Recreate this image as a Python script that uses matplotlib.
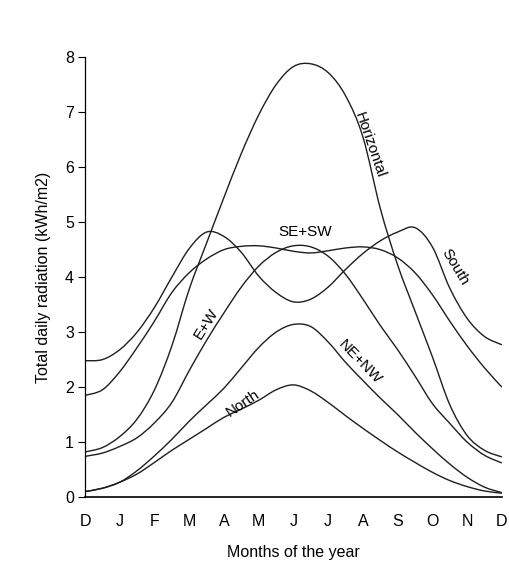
import numpy as np
import matplotlib
matplotlib.use("Agg")
import matplotlib.pyplot as plt
from matplotlib.path import Path
from matplotlib.patches import PathPatch

plt.rcParams['font.family'] = ['Liberation Sans', 'DejaVu Sans']

# months from December (0) to December (12), every half month
months = np.linspace(0, 12, 25)
month_labels = ['D', 'J', 'F', 'M', 'A', 'M', 'J', 'J', 'A', 'S', 'O', 'N', 'D']

horizontal = [0.82, 0.90, 1.10, 1.42, 1.95, 2.75, 3.78, 4.62, 5.45, 6.25, 6.95, 7.50, 7.83,
              7.88, 7.72, 7.30, 6.55, 5.25, 4.22, 3.38, 2.55, 1.68, 1.12, 0.85, 0.73]
south = [2.48, 2.50, 2.68, 3.00, 3.45, 4.00, 4.52, 4.82, 4.74, 4.45, 4.02, 3.72, 3.55,
         3.60, 3.82, 4.14, 4.43, 4.66, 4.82, 4.90, 4.55, 3.80, 3.25, 2.92, 2.77]
se_sw = [1.85, 1.95, 2.28, 2.72, 3.20, 3.72, 4.08, 4.33, 4.50, 4.56, 4.57, 4.53, 4.47,
         4.44, 4.48, 4.53, 4.55, 4.50, 4.35, 4.08, 3.68, 3.20, 2.75, 2.35, 2.00]
e_w = [0.74, 0.80, 0.92, 1.08, 1.35, 1.72, 2.30, 2.85, 3.35, 3.82, 4.20, 4.45, 4.57,
       4.55, 4.38, 4.05, 3.60, 3.12, 2.68, 2.20, 1.70, 1.34, 1.00, 0.76, 0.62]
ne_nw = [0.10, 0.16, 0.27, 0.48, 0.75, 1.05, 1.38, 1.68, 1.98, 2.35, 2.72, 3.00, 3.14,
         3.10, 2.82, 2.45, 2.12, 1.80, 1.50, 1.18, 0.88, 0.60, 0.36, 0.18, 0.08]
north = [0.10, 0.16, 0.27, 0.42, 0.63, 0.85, 1.05, 1.25, 1.45, 1.60, 1.76, 1.95, 2.04,
         1.93, 1.72, 1.48, 1.25, 1.03, 0.82, 0.63, 0.45, 0.30, 0.19, 0.11, 0.07]


def smooth_curve(ax, x, y):
    # draw a curve through every point, with bezier segments (catmull-rom style)
    pts = np.column_stack([x, y])
    ext = np.vstack([pts[0], pts, pts[-1]])
    verts = [pts[0]]
    codes = [Path.MOVETO]
    for i in range(1, len(ext) - 2):
        p0, p1, p2, p3 = ext[i - 1], ext[i], ext[i + 1], ext[i + 2]
        verts += [p1 + (p2 - p0) / 6, p2 - (p3 - p1) / 6, p2]
        codes += [Path.CURVE4] * 3
    ax.add_patch(PathPatch(Path(verts, codes), fill=False, edgecolor='#1e1e1e',
                           linewidth=1.0))


fig = plt.figure(figsize=(5.09, 5.61), dpi=100)
ax = fig.add_axes([0.167, 0.114, 0.819, 0.784])

for series in [horizontal, south, se_sw, e_w, ne_nw, north]:
    smooth_curve(ax, months, series)

# curve labels
ax.text(8.2, 6.4, 'Horizontal', rotation=-71, ha='center', va='center', fontsize=11)
ax.text(6.33, 4.82, 'SE+SW', ha='center', va='center', fontsize=11)
ax.text(10.65, 4.18, 'South', rotation=-59, ha='center', va='center', fontsize=11)
ax.text(3.5, 3.16, 'E+W', rotation=58, ha='center', va='center', fontsize=11)
ax.text(7.9, 2.45, 'NE+NW', rotation=-46, ha='center', va='center', fontsize=11)
ax.text(4.55, 1.7, 'North', rotation=34, ha='center', va='center', fontsize=11)

ax.set_xlim(0, 12)
ax.set_ylim(0, 8)
ax.set_xticks(range(13))
ax.set_xticklabels(month_labels)
ax.set_yticks(range(9))
ax.tick_params(axis='x', length=0, pad=12, labelsize=11.5)
ax.tick_params(axis='y', length=5, width=0.8, pad=3, labelsize=11.5)
ax.spines['top'].set_visible(False)
ax.spines['right'].set_visible(False)
ax.spines['left'].set_linewidth(0.9)
ax.spines['bottom'].set_linewidth(1.2)

ax.set_xlabel('Months of the year', fontsize=11.5, labelpad=12)
ax.set_ylabel('Total daily radiation (kWh/m2)', fontsize=11.5, labelpad=10)

fig.savefig('out.png', dpi=100, facecolor='white')
